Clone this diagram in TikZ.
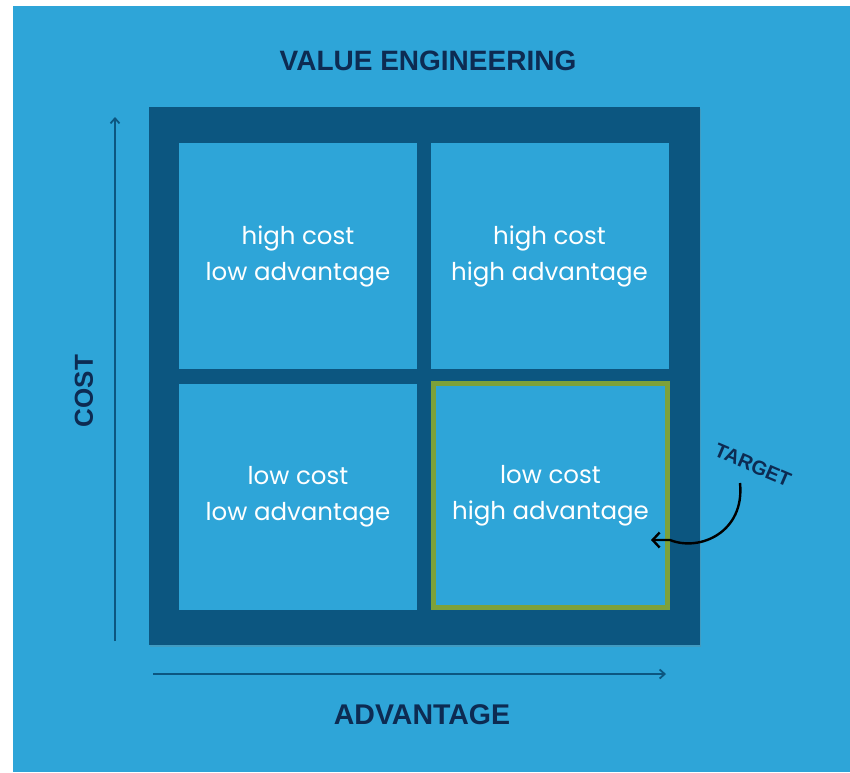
\documentclass[tikz,border=0pt]{standalone}
\usepackage{fontspec}
\setmainfont{Poppins}
\newfontfamily\labelfont{Liberation Sans}
\usetikzlibrary{arrows.meta,shadows}

\definecolor{skyblue}{HTML}{2EA5D8}
\definecolor{framenavy}{HTML}{0C5680}
\definecolor{textnavy}{HTML}{0D2B52}
\definecolor{targetgreen}{HTML}{7DA13A}

\tikzset{
    quadrant/.style={rectangle, fill=skyblue, minimum width=238pt, minimum height=226pt,
        inner sep=0pt, align=center, text=white, font=\fontsize{24.5}{36}\selectfont,
        execute at begin node={\rule{0pt}{34pt}}},
    axislabel/.style={text=textnavy, font=\labelfont\bfseries\fontsize{28.5}{30}\selectfont, inner sep=0pt},
    axis/.style={draw=framenavy, line width=1.8pt, -{Straight Barb[length=5pt,width=9pt]}}
}

\begin{document}
\begin{tikzpicture}[x=1pt,y=-1pt]
    % background
    \fill[white] (0,0) rectangle (850,772);
    \fill[skyblue] (13,6) rectangle (850,772);
    \useasboundingbox (0,0) rectangle (850,772);

    % frame and quadrants
    \node[rectangle, fill=framenavy, minimum width=551pt, minimum height=538pt,
        drop shadow={opacity=0.25, shadow xshift=1pt, shadow yshift=-2pt}] (frame) at (424,376) {};
    \node[quadrant] (hclo) at (298,256) {high cost\\low advantage};
    \node[quadrant] (hcha) at (549.5,256) {high cost\\high advantage};
    \node[quadrant] (lclo) at (298,497) {low cost\\low advantage};
    \node[quadrant, draw=targetgreen, line width=5pt, minimum width=234pt, minimum height=224pt] (lcha) at (550.5,495.5) {low cost\\high advantage};

    % title and axes
    \node[axislabel, font=\labelfont\bfseries\fontsize{28}{30}\selectfont] (title) at (428,61) {VALUE ENGINEERING};
    \coordinate (ybot) at (115,641);
    \coordinate (ytop) at (115,117);
    \coordinate (xleft) at (153,674);
    \coordinate (xright) at (666,674);
    \draw[axis] (ybot) -- (ytop);
    \draw[axis] (xleft) -- (xright);
    \node[axislabel, font=\labelfont\bfseries\fontsize{26}{30}\selectfont, rotate=90] (cost) at (84,391) {COST};
    \node[axislabel] (adv) at (422,715) {ADVANTAGE};

    % target marker
    \node[text=textnavy, font=\labelfont\bfseries\fontsize{20}{22}\selectfont, rotate=-23, inner sep=0pt] (target) at (753,465) {TARGET};
    \draw[black, line width=2.4pt, -{Straight Barb[length=7pt,width=15pt]}]
        (740,483) .. controls (745,532) and (700,552) .. (lcha.east |- 0,540) -- ++(-19,0);
\end{tikzpicture}
\end{document}
